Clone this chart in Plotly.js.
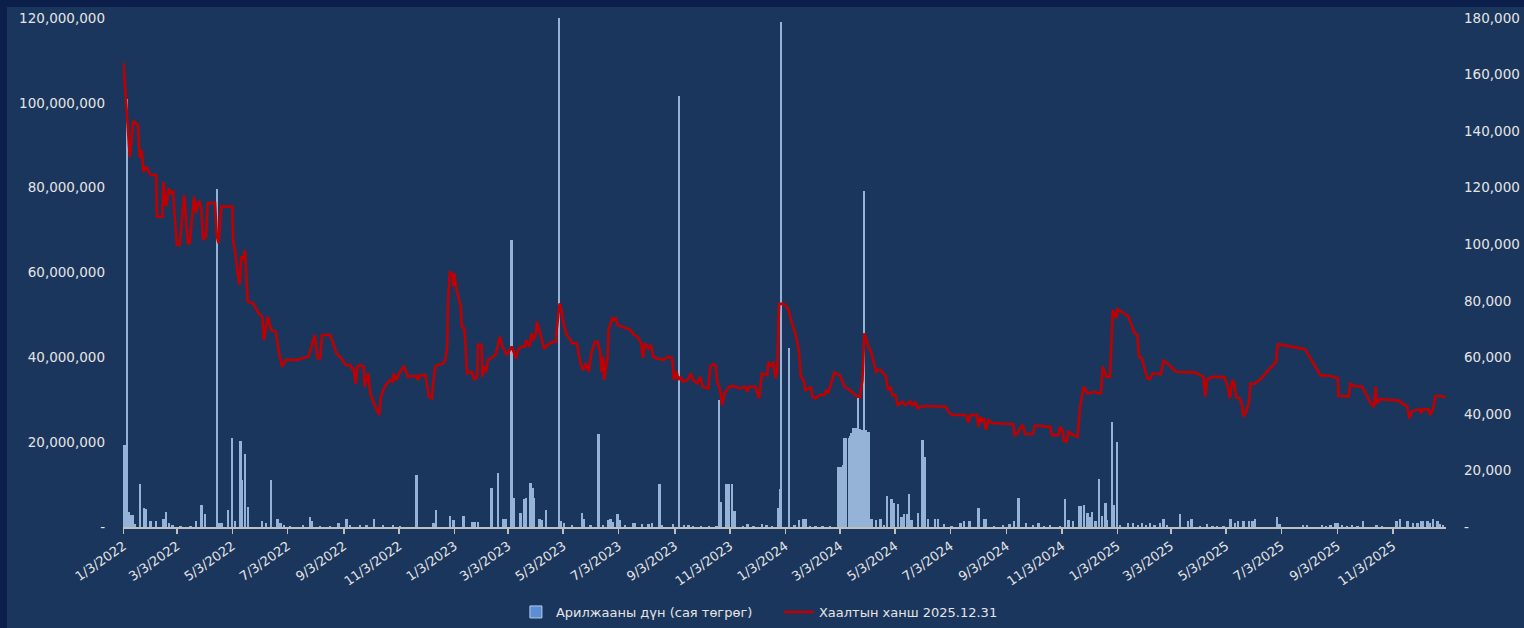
<!DOCTYPE html>
<html>
<head>
<meta charset="utf-8">
<script src="https://cdn.plot.ly/plotly-3.0.1.min.js"></script>
<style>
  html, body { margin:0; padding:0; background:#0c1f4a; width:1524px; height:628px; overflow:hidden; }
  #chart { position:absolute; left:7px; top:7px; width:1517px; height:621px; }
</style>
</head>
<body>
<div id="chart"></div>
<script>
// Trading day offsets are counted in calendar days from 3 Jan 2022
const startDate = '2022-01-03';

// Closing price (Хаалтын ханш), right axis
const closeDay = [
  0,3,7,11,16,18,20,22,25,30,
  36,37,43,44,47,50,52,55,56,59,
  62,67,71,73,78,80,82,84,86,88,
  91,93,101,103,105,108,120,121,123,126,
  128,130,132,134,137,143,149,153,155,159,
  163,168,171,175,179,192,197,204,211,214,
  217,219,228,235,239,245,250,252,254,256,
  258,261,265,266,270,272,276,282,284,288,
  294,297,298,301,304,309,314,323,325,327,
  333,337,340,342,344,353,355,357,358,360,
  363,364,365,367,372,373,376,378,379,384,
  387,390,391,395,396,398,400,402,408,411,
  415,418,421,423,428,431,433,435,439,443,
  444,448,450,452,455,456,460,462,464,470,
  474,477,478,481,483,485,488,493,495,500,
  504,507,510,513,516,520,523,526,527,529,
  530,534,535,539,541,543,545,550,559,563,
  567,571,573,575,579,582,584,588,595,601,
  605,606,607,610,612,614,617,622,626,628,
  633,636,639,645,647,650,653,655,657,659,
  660,663,668,672,680,686,688,690,697,701,
  704,710,711,714,717,719,721,723,728,733,
  736,741,745,747,750,752,756,758,760,763,
  768,773,775,777,782,784,790,795,801,807,
  812,815,817,821,825,830,832,835,841,843,
  846,848,851,854,859,862,868,870,873,876,
  879,885,907,911,915,929,932,934,941,943,
  945,947,949,951,954,956,959,967,976,981,
  983,986,991,993,994,1003,1005,1012,1015,1022,
  1024,1031,1033,1036,1037,1040,1042,1047,1052,1055,
  1059,1063,1072,1074,1078,1080,1084,1088,1091,1095,
  1096,1101,1108,1111,1115,1118,1120,1123,1129,1132,
  1135,1142,1144,1147,1151,1161,1182,1187,1191,1193,
  1195,1197,1201,1214,1218,1220,1223,1225,1227,1231,
  1234,1235,1238,1241,1243,1247,1253,1271,1273,1278,
  1303,1320,1331,1339,1340,1347,1351,1353,1357,1366,
  1375,1379,1381,1382,1386,1406,1408,1416,1418,1421,
  1425,1430,1431,1433,1439,1441,1444,1447,1452,1458
];
const closePrice = [
  164100,151000,130800,143600,142100,130500,133300,125600,127400,124500,
  124500,109700,109700,122100,113300,119800,118100,118600,112100,99700,
  99700,117400,100400,100400,116800,111000,114600,115000,112100,101500,
  102700,114600,114600,102700,100400,113300,113300,100900,97900,89700,
  85600,95600,94400,97900,79700,79100,75600,74400,66100,74400,
  69700,69100,62600,56700,59100,59100,59700,60200,67900,59700,
  59700,67900,67900,61400,60200,57300,57300,56100,56100,50500,
  56700,57300,56700,49600,54300,47400,43800,39600,46100,49600,
  52000,51400,54300,52000,54300,56900,53100,53400,52000,53700,
  53700,46100,45500,52000,56900,57900,59100,63800,80300,90300,
  89100,85000,89700,84400,77900,70800,70300,59700,54300,54900,
  52000,53100,64400,64400,53100,56700,54900,59100,60200,61400,
  67300,63800,62000,60800,63800,61400,59700,62600,63800,63800,
  66100,63800,68500,66100,68500,72600,67900,65000,63200,65000,
  65500,65500,70300,79100,76700,72600,68500,66100,65000,65000,
  57900,55500,57900,54900,61400,65500,65500,61400,54900,60200,
  52000,60200,69700,73800,73200,73800,71400,70800,69700,67900,
  67300,65000,59700,65000,63200,64400,60200,59700,59100,60200,
  59700,56700,52000,54900,52000,53100,51400,52000,54300,52000,
  50800,53100,49600,49000,56700,57600,57300,50800,49600,46700,
  43100,47300,49600,49900,49000,49600,47800,49600,49600,45500,
  54300,53700,58400,56700,58400,52600,55500,78900,78900,77300,
  73200,68500,62000,53100,52000,48400,49000,49600,46100,45500,
  46700,46700,48400,47300,53100,54600,53700,49600,48400,46700,
  45900,52000,68500,64400,61400,54900,55500,55500,53100,48400,
  49600,46700,46700,43100,44300,43100,44300,42800,44300,42000,
  42500,42800,42500,40200,39600,39600,36900,39600,39600,35500,
  39000,37200,38400,34300,37800,37200,36700,36700,36400,36400,
  32500,33100,36100,35000,32900,32900,35800,35800,35500,35500,
  32500,32500,35500,33700,30500,30200,33700,32500,31900,42500,
  49600,47300,47800,47300,47300,56700,53100,53100,76700,73800,
  77000,76100,74600,72000,68500,67900,60200,59700,52600,52300,
  54300,54300,54000,58800,57900,54900,54600,53700,53100,46100,
  52000,52600,53100,53000,49600,45500,52000,50800,45900,45500,
  42500,39000,40800,43700,50800,50600,52000,58400,64600,64400,
  62900,53700,53400,52600,46300,46300,46100,50600,49900,49600,
  44000,42500,49600,43700,45200,44700,44300,42500,38400,40800,
  41400,41600,40200,41600,41600,39600,41600,46300,46300,45900
];

// Trading value (Арилжааны дүн), left axis
const volumeDay = [
  1,4,6,8,10,12,18,23,25,30,
  36,44,47,50,54,63,74,80,86,90,
  103,106,109,115,120,123,129,131,134,137,
  153,157,163,170,173,177,184,198,206,208,
  217,228,237,246,250,261,268,276,286,297,
  305,323,342,345,360,364,375,385,388,391,
  406,413,419,422,428,431,438,442,444,448,
  449,451,453,459,461,466,480,482,486,495,
  506,508,515,524,529,535,537,540,545,547,
  553,562,564,572,579,583,591,594,606,613,
  618,623,628,637,646,654,657,659,665,668,
  671,674,683,688,695,704,709,715,722,724,
  725,734,740,745,750,752,757,763,771,779,
  788,789,790,791,794,795,796,797,800,801,
  802,804,805,808,810,811,812,815,817,818,
  819,820,822,825,830,835,839,842,847,850,
  854,858,861,864,866,869,876,881,884,887,
  895,898,905,913,923,927,933,943,949,951,
  960,970,977,982,987,995,1003,1009,1015,1022,
  1033,1038,1042,1047,1054,1056,1059,1063,1066,1068,
  1072,1076,1079,1083,1085,1090,1092,1096,1099,1108,
  1113,1119,1123,1128,1132,1137,1143,1147,1151,1165,
  1174,1178,1187,1195,1201,1206,1213,1221,1226,1229,
  1235,1241,1245,1248,1272,1275,1301,1305,1322,1326,
  1331,1336,1339,1344,1349,1355,1361,1367,1382,1388,
  1404,1408,1416,1422,1427,1431,1433,1438,1441,1444,
  1449,1452,1455
];
const volumeValue = [
  19.3e6,101e6,3.6e6,2.8e6,2.8e6,0.8e6,10.1e6,4.4e6,4.3e6,1.4e6,
  1.5e6,1.8e6,3.6e6,1.0e6,0.5e6,0.3e6,0.3e6,1.4e6,5.2e6,3.0e6,
  79.7e6,1.0e6,1.0e6,4.0e6,20.9e6,1.3e6,20.3e6,11.1e6,17.1e6,4.6e6,
  1.4e6,0.9e6,11.1e6,1.8e6,1.0e6,0.5e6,0.3e6,0.5e6,2.4e6,1.5e6,
  0.3e6,0.3e6,0.9e6,1.8e6,0.5e6,0.5e6,0.5e6,2.0e6,0.5e6,0.5e6,
  0.2e6,12.3e6,1.0e6,4.0e6,2.6e6,1.7e6,2.7e6,1.1e6,1.1e6,1.1e6,
  9.1e6,12.7e6,2.0e6,1.8e6,67.7e6,6.8e6,3.4e6,6.5e6,6.8e6,6.8e6,
  10.4e6,9.1e6,6.8e6,1.8e6,1.6e6,4.0e6,120e6,1.4e6,0.9e6,0.5e6,
  3.4e6,2.0e6,0.5e6,21.9e6,0.5e6,1.6e6,2.0e6,1.2e6,3.1e6,1.6e6,
  0.5e6,1.0e6,1.0e6,0.7e6,0.7e6,0.9e6,10.1e6,0.5e6,0.7e6,101.6e6,
  0.5e6,0.5e6,0.3e6,0.3e6,0.2e6,0.3e6,29.9e6,6.0e6,10.1e6,10.1e6,
  10.1e6,3.8e6,0.3e6,0.6e6,0.3e6,0.6e6,0.5e6,0.3e6,4.4e6,8.9e6,
  119e6,42.2e6,0.5e6,1.7e6,2.0e6,2.0e6,0.3e6,0.3e6,0.3e6,0.3e6,
  14.2e6,14.2e6,14.2e6,14.2e6,14.6e6,20.9e6,20.9e6,20.9e6,20.9e6,21.5e6,
  22.1e6,22.1e6,23.3e6,23.3e6,30.4e6,23.0e6,23.0e6,22.8e6,79.2e6,22.9e6,
  22.9e6,22.5e6,22.5e6,1.8e6,1.6e6,1.8e6,0.5e6,7.3e6,6.5e6,5.6e6,
  5.4e6,2.4e6,3.1e6,3.1e6,7.8e6,1.6e6,3.4e6,20.5e6,16.4e6,1.8e6,
  2.0e6,1.8e6,0.7e6,0.2e6,0.9e6,1.3e6,1.3e6,4.4e6,1.8e6,1.8e6,
  0.2e6,0.5e6,0.7e6,1.5e6,6.9e6,0.9e6,0.5e6,1.0e6,0.3e6,0.5e6,
  0.2e6,6.5e6,1.6e6,1.5e6,4.9e6,4.9e6,5.2e6,3.2e6,2.4e6,3.5e6,
  1.5e6,11.2e6,2.6e6,5.6e6,1.6e6,24.8e6,5.2e6,20.1e6,0.5e6,0.9e6,
  0.9e6,0.5e6,0.9e6,0.5e6,0.9e6,0.5e6,0.9e6,2.0e6,0.5e6,3.0e6,
  1.5e6,1.8e6,0.3e6,0.7e6,0.3e6,0.2e6,0.2e6,1.8e6,0.9e6,1.3e6,
  1.3e6,1.4e6,1.3e6,2.0e6,2.4e6,0.7e6,0.5e6,0.5e6,0.5e6,0.2e6,
  0.5e6,1.0e6,1.0e6,0.5e6,0.2e6,0.5e6,0.2e6,1.3e6,0.5e6,0.2e6,
  1.3e6,2.0e6,1.3e6,0.9e6,1.0e6,1.3e6,1.5e6,1.3e6,0.9e6,2.0e6,
  1.3e6,0.7e6,0.5e6
];

const leftTickVals = [0, 20000000, 40000000, 60000000, 80000000, 100000000, 120000000];
const leftTickText = ['-', '20,000,000', '40,000,000', '60,000,000', '80,000,000', '100,000,000', '120,000,000'];
const rightTickVals = [0, 20000, 40000, 60000, 80000, 100000, 120000, 140000, 160000, 180000];
const rightTickText = ['-', '20,000', '40,000', '60,000', '80,000', '100,000', '120,000', '140,000', '160,000', '180,000'];

const volumeName = 'Арилжааны дүн (сая төгрөг)';
const closeName = 'Хаалтын ханш 2025.12.31';

const DAY_MS = 86400000;
const startMs = Date.parse(startDate + 'T00:00:00Z');
const toDate = d => new Date(startMs + d * DAY_MS).toISOString().slice(0, 10);

const traces = [
  {
    type: 'bar', x: volumeDay.map(toDate), y: volumeValue, yaxis: 'y',
    width: 2.6 * DAY_MS,
    marker: { color: '#95b3d7', line: { width: 0 } },
    showlegend: false, hoverinfo: 'x+y'
  },
  {
    type: 'scatter', mode: 'lines', x: closeDay.map(toDate), y: closePrice, yaxis: 'y2',
    name: closeName, line: { color: '#c00000', width: 2.6 },
    legendrank: 2
  },
  {
    type: 'bar', x: [null], y: [null], yaxis: 'y', name: volumeName,
    marker: { color: '#5b8ed6', line: { color: '#b8cce8', width: 1 } },
    legendrank: 1, hoverinfo: 'skip'
  }
];

const layout = {
  width: 1517, height: 621,
  margin: { l: 116, r: 78, t: 11, b: 101, autoexpand: false },
  paper_bgcolor: '#1b365d', plot_bgcolor: '#1b365d',
  font: { family: 'DejaVu Sans, Verdana, sans-serif', color: '#e4e4e4', size: 13 },
  barmode: 'overlay', bargap: 0,
  showlegend: true,
  legend: {
    orientation: 'h', x: 0.297, xanchor: 'left', y: -0.167, yanchor: 'middle',
    font: { size: 13, color: '#e4e4e4' }, bgcolor: 'rgba(0,0,0,0)',
    traceorder: 'normal', itemwidth: 30,
    entrywidth: 218, entrywidthmode: 'pixels'
  },
  xaxis: {
    type: 'date', automargin: false,
    range: ['2022-01-02 12:00', '2025-12-31 12:00'],
    tick0: '2022-01-03', dtick: 'M2', tickformat: '%-m/%-d/%Y',
    tickangle: -35, ticks: 'outside', ticklen: 5, tickwidth: 1.5, tickcolor: '#bfbfbf',
    showline: true, linecolor: '#bfbfbf', linewidth: 1.5,
    showgrid: false, zeroline: false,
    tickfont: { size: 13, color: '#e4e4e4' }
  },
  yaxis: {
    range: [0, 120000000], tickmode: 'array', tickvals: leftTickVals, ticktext: leftTickText,
    showgrid: false, zeroline: false, showline: false, ticks: '', automargin: false,
    ticklabelstandoff: 17, tickfont: { size: 13.5, color: '#e4e4e4' }
  },
  yaxis2: {
    overlaying: 'y', side: 'right', automargin: false,
    range: [0, 180000], tickmode: 'array', tickvals: rightTickVals, ticktext: rightTickText,
    showgrid: false, zeroline: false, showline: false, ticks: '',
    ticklabelstandoff: 17, tickfont: { size: 13.5, color: '#e4e4e4' }
  }
};

Plotly.newPlot('chart', traces, layout, { displayModeBar: false, staticPlot: true });
</script>
</body>
</html>
